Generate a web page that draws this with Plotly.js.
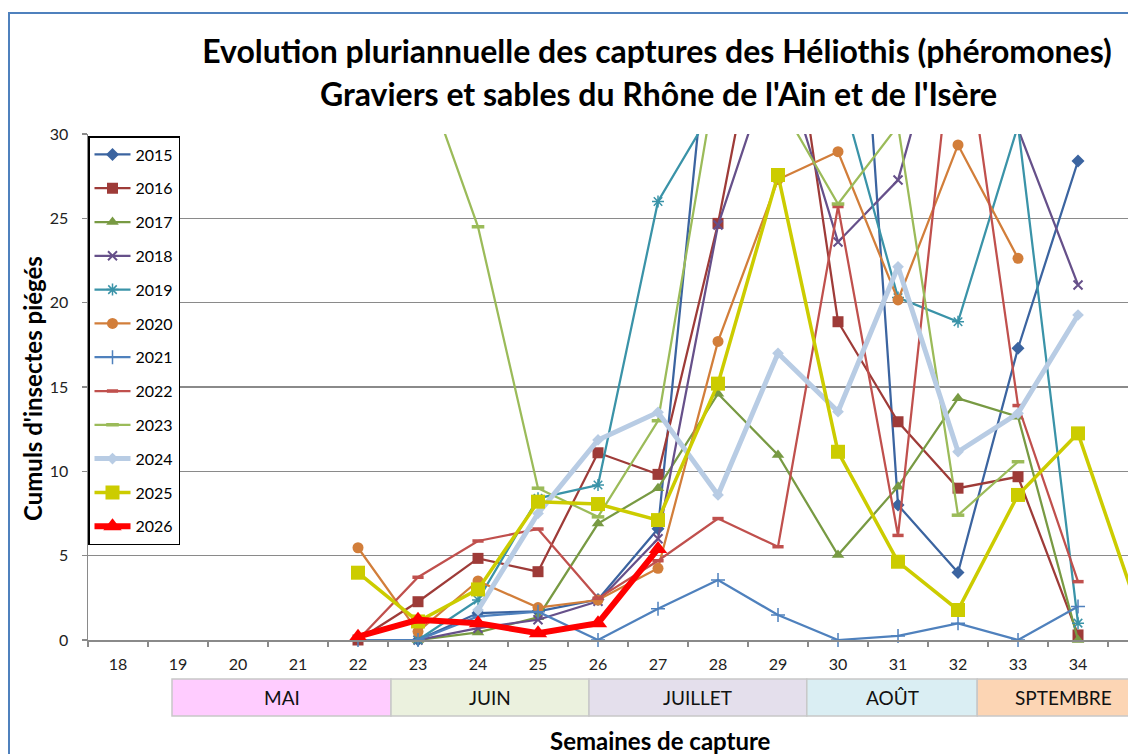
<!DOCTYPE html>
<html>
<head>
<meta charset="utf-8">
<script src="https://cdn.plot.ly/plotly-3.0.1.min.js"></script>
<style>
  html, body { margin:0; padding:0; background:#fff; }
  #wrap { position:relative; width:1128px; height:754px; overflow:hidden; }
  #chart { position:absolute; left:0; top:0; width:1128px; height:754px; }
  #frame { position:absolute; left:8px; top:12px; width:1200px; height:800px;
           border-top:2px solid #4F81BD; border-left:2px solid #4F81BD;
           box-shadow: 1px 1px 1px #9a9a9a; pointer-events:none; }
</style>
</head>
<body>
<div id="wrap"><div id="chart"></div><div id="frame"></div></div>
<script>
// ---- data ----
const weeks = [18,19,20,21,22,23,24,25,26,27,28,29,30,31,32,33,34,35];
const years = ['2015','2016','2017','2018','2019','2020','2021','2022','2023','2024','2025','2026'];
const s2015 = [null,null,null,null,null,0,1.6,1.7,2.4,6.6,42,55,60,8.0,4.0,17.3,28.4,null];
const s2016 = [null,null,null,null,0,2.27,4.84,4.05,11.1,9.82,24.7,43,18.87,12.94,9.0,9.68,0.3,null];
const s2017 = [null,null,null,null,null,0,0.45,1.35,6.9,9.0,14.6,10.97,5.04,9.09,14.33,13.24,0,null];
const s2018 = [null,null,null,null,null,0,0.7,1.2,2.3,6.0,24.6,35.3,23.6,27.27,40,30.3,21.05,null];
const s2019 = [null,null,null,null,null,0,2.37,8.4,9.19,26.0,32,34,33.2,20.3,18.87,30.5,1.0,null];
const s2020 = [null,null,null,null,5.47,0.5,3.5,1.92,2.37,4.25,17.7,27.3,28.95,20.16,29.35,22.63,null,null];
const s2021 = [null,null,null,null,0,0,1.4,1.68,0,1.85,3.56,1.48,0,0.24,0.99,0,1.98,null];
const s2022 = [null,null,null,null,0,3.72,5.87,6.58,2.47,4.7,7.2,5.53,25.7,6.2,39,13.9,3.46,null];
const s2023 = [null,null,null,null,null,34.5,24.5,9.0,7.3,13.0,34,32,25.85,30.5,7.4,10.57,null,null];
const s2024 = [null,null,null,null,null,null,1.78,7.5,11.86,13.5,8.6,17.0,13.54,22.13,11.16,13.44,19.27,null];
const s2025 = [null,null,null,null,3.99,1.1,3.0,8.2,8.06,7.11,15.2,27.57,11.16,4.64,1.78,8.6,12.25,1.8];
const s2026 = [null,null,null,null,0.2,1.2,1.0,0.4,1.0,5.4,null,null,null,null,null,null,null,null];
const months = ['MAI','JUIN','JUILLET','AOÛT','SPTEMBRE'];
const titleLine1 = 'Evolution pluriannuelle des captures des Héliothis (phéromones)';
const titleLine2 = "Graviers et sables du Rhône de l'Ain et de l'Isère";
const yTitle = "Cumuls d'insectes piégés";
const xTitle = 'Semaines de capture';

// ---- styles ----
const series = [s2015,s2016,s2017,s2018,s2019,s2020,s2021,s2022,s2023,s2024,s2025,s2026];
const styles = [
  {c:'#3B64A0', w:2.25, sym:'diamond', sz:10},
  {c:'#9E3B38', w:2.25, sym:'square', sz:11},
  {c:'#789A43', w:2.25, sym:'triangle-up', sz:11},
  {c:'#66508A', w:2.25, sym:'x-thin-open', sz:9, lw:2},
  {c:'#3A93A8', w:2.25, sym:'asterisk-open', sz:10, lw:1.5},
  {c:'#D27E3A', w:2.25, sym:'circle', sz:11},
  {c:'#4F81BD', w:2.25, sym:'cross-thin-open', sz:10, lw:1.5},
  {c:'#C0504D', w:2.25, sym:'line-ew-open', sz:8, lw:3.5},
  {c:'#9BBB59', w:2.25, sym:'line-ew-open', sz:9, lw:3.5},
  {c:'#B8CCE4', w:5, sym:'diamond', sz:9},
  {c:'#CCCC00', w:3.5, sym:'square', sz:14},
  {c:'#FF0000', w:6, sym:'triangle-up', sz:16}
];
const xcats = weeks.map(String);
const traces = series.map((ys, i) => {
  const st = styles[i];
  return {
    type:'scatter', mode:'lines+markers', name: years[i], legendgroup: years[i],
    x: xcats, y: ys, connectgaps:false, cliponaxis:false,
    line:{color: st.c, width: st.w},
    marker:{symbol: st.sym, size: st.sz, color: st.c,
            line:{color: st.c, width: st.lw || 0}},
    hoverinfo:'x+y+name'
  };
});

// layout geometry
const L = 88, R = 1128, T = 134, B = 640;
const xr = [-0.5, 16.833];
const wToPaper = w => ((w - weeks[0]) - xr[0]) / (xr[1] - xr[0]);
const pxX = px => (px - L) / (R - L);
const pxY = py => (B - py) / (B - T);
const bandEdges = [18.9, 22.55, 25.85, 29.48, 32.32, 35.18];
const bandColors = ['#FFCCFF','#EBF1DE','#E4DFEC','#DAEEF3','#FCD5B4'];
const FONT = 'Lato, "Liberation Sans", sans-serif';

const shapes = [
  // cover above plot area so out-of-range markers are hidden
  {type:'rect', xref:'paper', yref:'paper', x0:0.002, x1:1.1, y0: pxY(133), y1: 1.4,
   fillcolor:'#ffffff', line:{width:0}, layer:'above'}
];
const annotations = [
  {xref:'paper', yref:'paper', x: pxX(658), y: pxY(93), text: titleLine2, showarrow:false,
   xanchor:'center', yanchor:'middle', font:{family:FONT, size:32, color:'#000', weight:700}},
  {xref:'paper', yref:'paper', x: pxX(660), y: pxY(740), text: xTitle, showarrow:false,
   xanchor:'center', yanchor:'middle', font:{family:FONT, size:24, color:'#000', weight:700}},
  {xref:'paper', yref:'paper', x: pxX(32), y: pxY(389), text: yTitle, showarrow:false, textangle:-90,
   xanchor:'center', yanchor:'middle', font:{family:FONT, size:24, color:'#000', weight:700}}
];
months.forEach((m, i) => {
  const x0 = wToPaper(bandEdges[i]), x1 = wToPaper(bandEdges[i+1]);
  shapes.push({type:'rect', xref:'paper', yref:'paper', x0, x1, y0: pxY(716), y1: pxY(679),
    fillcolor: bandColors[i], line:{color:'#C8C8C8', width:1.5}, layer:'above'});
  annotations.push({xref:'paper', yref:'paper', x:(x0+x1)/2, y: pxY(697.5), text: m, showarrow:false,
    xanchor:'center', yanchor:'middle', font:{family:FONT, size:19, color:'#111'}});
});

const layout = {
  width:1128, height:754,
  margin:{l:L, r:0, t:T, b:754-B, pad:0},
  paper_bgcolor:'#fff', plot_bgcolor:'#fff',
  font:{family:FONT, color:'#000'},
  title:{text: titleLine1, xref:'container', yref:'container', x: 657/1128, xanchor:'center',
         y: 1 - 52/754, yanchor:'middle', font:{family:FONT, size:32, color:'#000', weight:700}},
  showlegend:true,
  legend:{x:0, y: pxY(136), xanchor:'left', yanchor:'top', bgcolor:'#fff',
          bordercolor:'#000', borderwidth:1.5, font:{family:FONT, size:16, color:'#000'},
          itemwidth:36, tracegroupgap:10, traceorder:'grouped'},
  xaxis:{type:'category', categoryorder:'array', categoryarray: xcats, range: xr,
         tickson:'boundaries', ticks:'outside', ticklen:5, tickcolor:'#8a8a8a', tickwidth:1.5,
         showgrid:false, showline:true, linecolor:'#8a8a8a', linewidth:1.5, zeroline:false,
         tickfont:{family:FONT, size:16, color:'#222'}, ticklabelstandoff:9, fixedrange:true},
  yaxis:{range:[0,30], tickmode:'linear', tick0:0, dtick:5, ticks:'outside', ticklen:5,
         tickcolor:'#8a8a8a', tickwidth:1.5, showline:true, linecolor:'#8a8a8a', linewidth:1.5,
         gridcolor:'#8a8a8a', gridwidth:1.5, zeroline:false,
         tickfont:{family:FONT, size:16, color:'#222'}, ticklabelstandoff:10, fixedrange:true},
  shapes, annotations
};
Plotly.newPlot('chart', traces, layout, {displayModeBar:false, staticPlot:true});
</script>
</body>
</html>
